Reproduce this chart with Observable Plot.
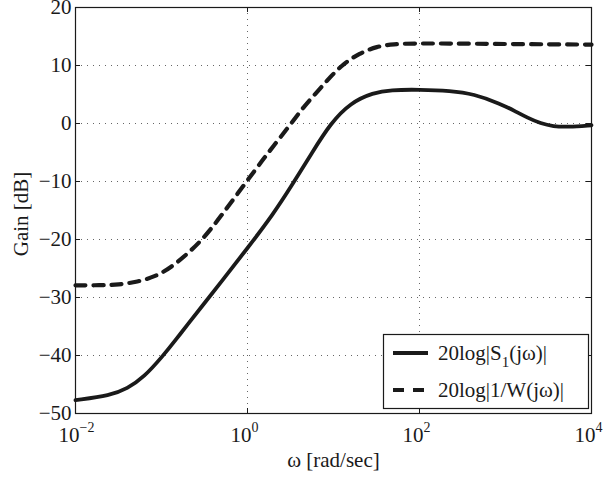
<!DOCTYPE html>
<html><head><meta charset="utf-8">
<script src="https://cdn.jsdelivr.net/npm/d3@7"></script>
<script src="https://cdn.jsdelivr.net/npm/@observablehq/plot@0.6"></script>
<style>
body{margin:0;background:#fff}
svg{font-family:"Liberation Serif","Times New Roman",serif}
</style>
</head><body><div id="chart"></div>
<script>
// Data
const omegaS = [0.01, 0.0255, 0.04, 0.062, 0.105, 0.15, 0.2, 0.3, 0.5, 1, 2, 3.3, 5.7, 9.2, 15.8, 29, 46, 100, 230, 425, 875, 1300, 1800, 2570, 3600, 5250, 10000];
const gainS  = [-47.7, -46.9, -45.7, -43.8, -40, -37.1, -34.7, -31.4, -27.2, -21.5, -15.6, -10.6, -4.9, 0, 3.6, 5.3, 5.8, 5.85, 5.65, 5.1, 3.4, 2.1, 1.0, 0, -0.5, -0.6, -0.3];
const omegaW = [0.01, 0.0195, 0.0316, 0.0526, 0.085, 0.13, 0.195, 0.277, 0.39, 0.53, 1, 1.5, 2, 3, 4.5, 6.5, 9, 13, 20, 32, 50, 85, 200, 1000, 10000];
const gainW  = [-27.9, -27.9, -27.8, -27.3, -26.4, -24.8, -22.6, -20.5, -17.9, -15.3, -9.8, -6.3, -3.9, -0.6, 2.9, 5.5, 7.9, 10.3, 12.1, 13.3, 13.7, 13.8, 13.8, 13.7, 13.6];
const xTicks = [0.01, 1, 100, 10000];
const xTickExp = ["−2", "0", "2", "4"];
const yTicks = [-50, -40, -30, -20, -10, 0, 10, 20];
const seriesNames = ["20log|S", "20log|1/W(jω)|"];
const yLabel = "Gain [dB]";

const S = omegaS.map((w, i) => ({w, g: gainS[i]}));
const W = omegaW.map((w, i) => ({w, g: gainW[i]}));

const W_ = 604, H_ = 477, mL = 75, mR = 13, mT = 7, mB = 64;
const pw = W_ - mL - mR, ph = H_ - mT - mB;
const ink = "#1a1a1a";
const gridStyle = {stroke: "#666", strokeOpacity: 1, strokeWidth: 1, strokeDasharray: "1,5"};

const plot = Plot.plot({
  width: W_, height: H_,
  marginLeft: mL, marginRight: mR, marginTop: mT, marginBottom: mB,
  style: {fontFamily: "Liberation Serif, Times New Roman, serif", fontSize: "21px", color: ink, background: "#fff"},
  x: {type: "log", domain: [1e-2, 1e4], axis: null},
  y: {domain: [-50, 20]},
  marks: [
    Plot.gridX(xTicks, gridStyle),
    Plot.gridY(yTicks, gridStyle),
    Plot.line(S, {x: "w", y: "g", stroke: ink, strokeWidth: 3.8, curve: "basis"}),
    Plot.line(W, {x: "w", y: "g", stroke: ink, strokeWidth: 4.2, strokeDasharray: "10,8", curve: "basis"}),
    Plot.tickX(xTicks, {x: d => d, stroke: ink, insetTop: ph - 5}),
    Plot.tickX(xTicks, {x: d => d, stroke: ink, insetBottom: ph - 5}),
    Plot.tickY(yTicks, {y: d => d, stroke: ink, insetRight: pw - 5}),
    Plot.tickY(yTicks, {y: d => d, stroke: ink, insetLeft: pw - 5}),
    Plot.frame({stroke: ink, strokeWidth: 1.2}),
    Plot.axisY(yTicks, {tickSize: 0, tickPadding: 4, tickFormat: d => d < 0 ? "−" + (-d) : String(d), label: null, fontSize: 21}),
    Plot.text(xTicks, {x: d => d, text: () => "10", frameAnchor: "bottom", dy: 28, dx: 4, textAnchor: "end", fontSize: 21, fill: ink}),
    Plot.text(xTicks, {x: d => d, text: (d, i) => xTickExp[i], frameAnchor: "bottom", dy: 18, dx: 4, textAnchor: "start", fontSize: 14, fill: ink}),
    Plot.text(["ω [rad/sec]"], {text: d => d, frameAnchor: "bottom", dy: 53, fontSize: 21, fill: ink})
  ]
});
document.getElementById("chart").appendChild(plot);

const svg = d3.select(plot);
// Y axis title
svg.append("text").attr("transform", "translate(23,214) rotate(-90)")
  .attr("text-anchor", "middle").attr("dominant-baseline", "middle")
  .attr("fill", ink).attr("font-size", 21).text(yLabel);

// Legend
const lg = svg.append("g").attr("text-anchor", "start");
lg.append("rect").attr("x", 383.5).attr("y", 334.5).attr("width", 205).attr("height", 74)
  .attr("fill", "#fff").attr("stroke", ink).attr("stroke-width", 1.2);
lg.append("line").attr("x1", 393).attr("x2", 428).attr("y1", 353).attr("y2", 353)
  .attr("stroke", ink).attr("stroke-width", 3.8);
lg.append("line").attr("x1", 393).attr("x2", 428).attr("y1", 390).attr("y2", 390)
  .attr("stroke", ink).attr("stroke-width", 4.2).attr("stroke-dasharray", "11,9");
const t1 = lg.append("text").attr("x", 438).attr("y", 360).attr("fill", ink).attr("font-size", 21).attr("text-anchor", "start");
t1.append("tspan").text(seriesNames[0]);
t1.append("tspan").attr("dy", 7).attr("font-size", 15).text("1");
t1.append("tspan").attr("dy", -7).text("(jω)|");
lg.append("text").attr("x", 438).attr("y", 397).attr("fill", ink).attr("font-size", 21).attr("text-anchor", "start").text(seriesNames[1]);
</script>
</body></html>
